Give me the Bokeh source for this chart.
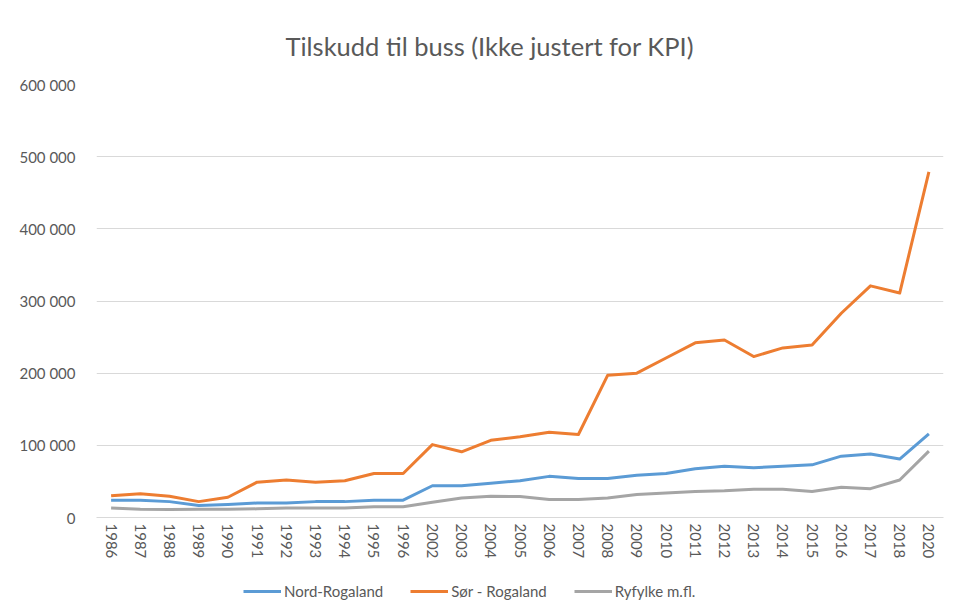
from bokeh.plotting import figure
from bokeh.layouts import column
from bokeh.models import ColumnDataSource, CustomJSTickFormatter, Legend, LegendItem, FixedTicker
from bokeh.embed import file_html
from bokeh.resources import INLINE

years = ["1986", "1987", "1988", "1989", "1990", "1991", "1992", "1993", "1994", "1995", "1996",
         "2002", "2003", "2004", "2005", "2006", "2007", "2008", "2009", "2010", "2011", "2012",
         "2013", "2014", "2015", "2016", "2017", "2018", "2020"]
nord_rogaland = [24000, 24000, 22000, 16500, 18000, 20000, 20000, 22000, 22000, 24000, 24000,
                 44000, 44000, 47500, 51000, 57000, 54000, 54000, 58500, 61000, 67500, 71000,
                 69000, 71000, 73000, 85000, 88000, 81000, 116000]
sor_rogaland = [30000, 33000, 29500, 22000, 28000, 49000, 52000, 49000, 51000, 61000, 61000,
                101000, 91000, 107000, 112000, 118000, 115000, 197000, 200000, 221000, 242000, 246000,
                223000, 235000, 239000, 283000, 321000, 311000, 479000]
ryfylke = [13000, 11500, 11000, 11500, 11500, 12000, 13000, 13000, 13000, 15000, 15000,
           21000, 27000, 29500, 29000, 25000, 25000, 27000, 32000, 34000, 36000, 37000,
           39000, 39000, 36000, 42000, 40000, 52000, 92000]
series_names = ["Nord-Rogaland", "Sør - Rogaland", "Ryfylke m.fl."]
series_colors = ["#5B9BD5", "#ED7D31", "#A5A5A5"]
y_ticks = [0, 100000, 200000, 300000, 400000, 500000, 600000]

FONT = "Lato"
TXT = "#595959"

src = ColumnDataSource(dict(year=years, nord=nord_rogaland, sor=sor_rogaland, ryf=ryfylke))

p = figure(width=947, height=572, x_range=years, y_range=(0, 600000),
           output_backend="svg", toolbar_location=None,
           min_border_left=96, min_border_right=4, min_border_top=84, min_border_bottom=55,
           title="Tilskudd til buss (Ikke justert for KPI)")

p.title.text_font = FONT
p.title.text_font_size = "25.5px"
p.title.text_font_style = "normal"
p.title.text_color = TXT
p.title.align = "left"
p.title.offset = 189
p.title.standoff = 48

p.outline_line_color = None
p.xgrid.grid_line_color = None
p.ygrid.grid_line_color = "#d9d9d9"
p.ygrid.grid_line_width = 1

p.yaxis.ticker = FixedTicker(ticks=y_ticks)
p.yaxis.formatter = CustomJSTickFormatter(code=r"return tick.toFixed(0).replace(/\B(?=(\d{3})+(?!\d))/g, ' ');")
p.yaxis.axis_line_color = None
p.yaxis.major_tick_line_color = None
p.yaxis.minor_tick_line_color = None
p.yaxis.major_label_standoff = 15
p.yaxis.major_label_text_font = FONT
p.yaxis.major_label_text_font_size = "15px"
p.yaxis.major_label_text_color = TXT

p.xaxis.axis_line_color = "#d9d9d9"
p.xaxis.axis_line_width = 1
p.xaxis.major_tick_line_color = None
p.xaxis.minor_tick_line_color = None
p.xaxis.major_label_orientation = "vertical"
p.xaxis.major_label_standoff = 0
p.xaxis.major_label_text_font = FONT
p.xaxis.major_label_text_font_size = "15px"
p.xaxis.major_label_text_color = TXT

p.line("year", "nord", source=src, line_color=series_colors[0], line_width=3, line_join="round")
p.line("year", "sor", source=src, line_color=series_colors[1], line_width=3, line_join="round")
p.line("year", "ryf", source=src, line_color=series_colors[2], line_width=3, line_join="round")

# legend strip below the chart (frames are aligned by the column layout)
lg = figure(width=947, height=34, x_range=(0, 1), y_range=(0, 1),
            output_backend="svg", toolbar_location=None,
            min_border=0, min_border_left=0, min_border_right=0, min_border_top=0, min_border_bottom=0)
lg.axis.visible = False
lg.grid.visible = False
lg.outline_line_color = None
placeholder = ColumnDataSource(dict(x=[float("nan")], y=[float("nan")]))
items = []
for name, col in zip(series_names, series_colors):
    r = lg.line("x", "y", source=placeholder, line_color=col, line_width=3)
    items.append(LegendItem(label=name, renderers=[r]))
legend = Legend(items=items, orientation="horizontal", location=(147, 5),
                padding=0, margin=0, spacing=27, label_standoff=3,
                glyph_width=38, glyph_height=20, label_height=20,
                label_text_font=FONT, label_text_font_size="15px", label_text_color=TXT,
                background_fill_alpha=0, border_line_color=None)
lg.add_layout(legend, "center")

layout = column(p, lg, spacing=0)
open("out.html", "w").write(file_html(layout, INLINE))
